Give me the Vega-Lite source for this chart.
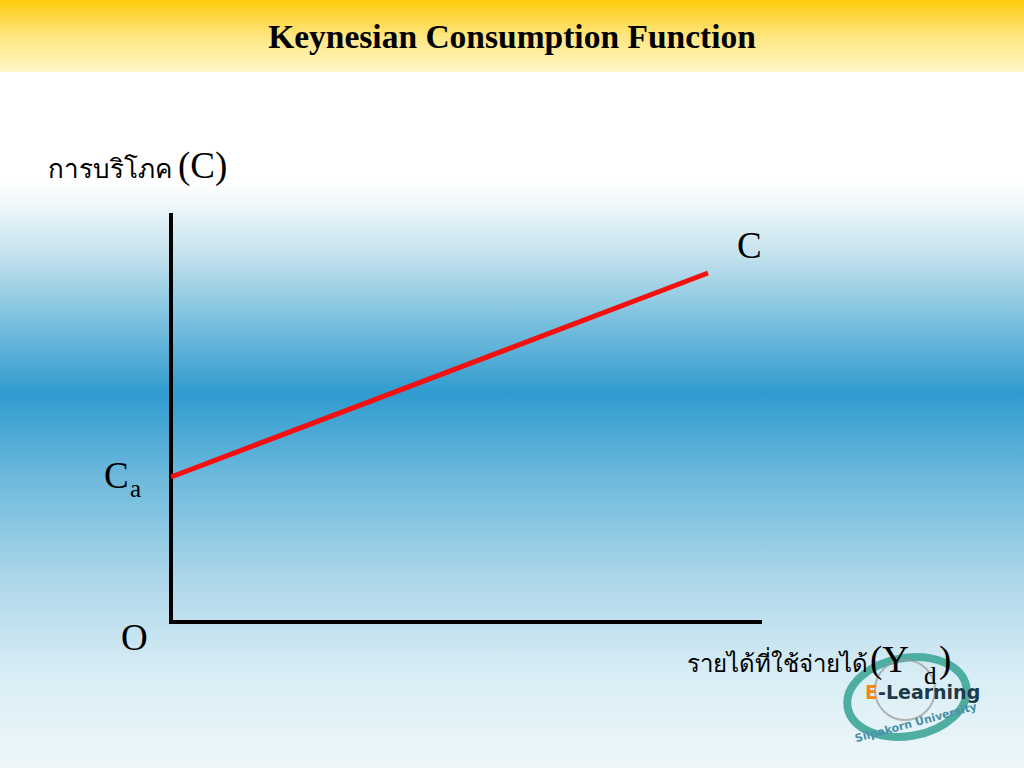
{
  "$schema": "https://vega.github.io/schema/vega-lite/v6.json",
  "width": 1024,
  "height": 768,
  "autosize": {"type": "fit", "contains": "padding"},
  "padding": 0,
  "background": "#ffffff",
  "view": {"stroke": null},
  "config": {"axis": {"disable": true}},
  "layer": [
    {
      "data": {"values": [{"xa": -171, "xb": 853, "ya": 550, "yb": 622}]},
      "mark": {"type": "rect", "color": {"gradient": "linear", "x1": 0, "y1": 0, "x2": 0, "y2": 1, "stops": [{"offset": 0, "color": "#FFCB0C"}, {"offset": 0.5, "color": "#FFE680"}, {"offset": 1, "color": "#FFF8C8"}]}},
      "encoding": {
        "x": {"field": "xa", "type": "quantitative", "scale": {"domain": [-171, 853], "nice": false, "zero": false}},
        "x2": {"field": "xb"},
        "y": {"field": "yb", "type": "quantitative", "scale": {"domain": [-146, 622], "nice": false, "zero": false}},
        "y2": {"field": "ya"}
      }
    },
    {
      "data": {"values": [{"xa": -171, "xb": 853, "ya": -146, "yb": 440}]},
      "mark": {"type": "rect", "color": {"gradient": "linear", "x1": 0, "y1": 0, "x2": 0, "y2": 1, "stops": [{"offset": 0, "color": "#FFFFFF"}, {"offset": 0.04, "color": "#EEF7FA"}, {"offset": 0.12, "color": "#C6E3EE"}, {"offset": 0.22, "color": "#86C5E0"}, {"offset": 0.36, "color": "#2F9BCF"}, {"offset": 0.5, "color": "#6BB8DC"}, {"offset": 0.68, "color": "#AED7EA"}, {"offset": 0.84, "color": "#D8EDF5"}, {"offset": 1, "color": "#EEF7FA"}]}},
      "encoding": {
        "x": {"field": "xa", "type": "quantitative"},
        "x2": {"field": "xb"},
        "y": {"field": "yb", "type": "quantitative"},
        "y2": {"field": "ya"}
      }
    },
    {
      "data": {"values": [{"x": 736, "y": -75}]},
      "mark": {"type": "point", "shape": "M -1,0 A 1,0.65 0 1,0 1,0 A 1,0.65 0 1,0 -1,0 Z", "size": 14500, "filled": false, "stroke": "#4FAEA2", "strokeWidth": 8, "angle": -10, "opacity": 1},
      "encoding": {"x": {"field": "x", "type": "quantitative"}, "y": {"field": "y", "type": "quantitative"}}
    },
    {
      "data": {"values": [{"x": 734, "y": -68}]},
      "mark": {"type": "point", "shape": "circle", "size": 3600, "filled": false, "stroke": "#9A9A9A", "strokeWidth": 2},
      "encoding": {"x": {"field": "x", "type": "quantitative"}, "y": {"field": "y", "type": "quantitative"}}
    },
    {
      "data": {"values": [{"x": 694, "y": -77, "t": "E"}]},
      "mark": {"type": "text", "font": "DejaVu Sans", "fontWeight": "bold", "fontSize": 19, "align": "left", "baseline": "alphabetic", "color": "#F08A12"},
      "encoding": {"x": {"field": "x", "type": "quantitative"}, "y": {"field": "y", "type": "quantitative"}, "text": {"field": "t"}}
    },
    {
      "data": {"values": [{"x": 707, "y": -77, "t": "-Learning"}]},
      "mark": {"type": "text", "font": "DejaVu Sans", "fontWeight": "bold", "fontSize": 19, "align": "left", "baseline": "alphabetic", "color": "#1E3A4A"},
      "encoding": {"x": {"field": "x", "type": "quantitative"}, "y": {"field": "y", "type": "quantitative"}, "text": {"field": "t"}}
    },
    {
      "data": {"values": [{"x": 745, "y": -101, "t": "Silpakorn University"}]},
      "mark": {"type": "text", "font": "DejaVu Sans", "fontWeight": "bold", "fontSize": 11, "align": "center", "baseline": "middle", "angle": -15, "color": "#4A8FA8"},
      "encoding": {"x": {"field": "x", "type": "quantitative"}, "y": {"field": "y", "type": "quantitative"}, "text": {"field": "t"}}
    },
    {
      "data": {"values": [{"seg": "yaxis", "yd": 0, "c": 407, "o": 0}, {"seg": "yaxis", "yd": 0, "c": 0, "o": 1}, {"seg": "xaxis", "yd": 0, "c": 0, "o": 0}, {"seg": "xaxis", "yd": 589, "c": 0, "o": 1}]},
      "mark": {"type": "line", "color": "#000000", "strokeWidth": 4, "strokeCap": "square"},
      "encoding": {
        "x": {"field": "yd", "type": "quantitative"},
        "y": {"field": "c", "type": "quantitative"},
        "detail": {"field": "seg"},
        "order": {"field": "o"}
      }
    },
    {
      "data": {"values": [{"yd": 0, "c": 145}, {"yd": 537, "c": 349}]},
      "mark": {"type": "line", "color": "#F50F0F", "strokeWidth": 5},
      "encoding": {
        "x": {"field": "yd", "type": "quantitative"},
        "y": {"field": "c", "type": "quantitative"}
      }
    },
    {
      "data": {"values": [{"x": 341, "y": 574, "t": "Keynesian Consumption Function"}]},
      "mark": {"type": "text", "font": "Liberation Serif", "fontWeight": "bold", "fontSize": 33.5, "align": "center", "baseline": "alphabetic", "color": "#000000"},
      "encoding": {"x": {"field": "x", "type": "quantitative"}, "y": {"field": "y", "type": "quantitative"}, "text": {"field": "t"}}
    },
    {
      "data": {"values": [{"x": 566, "y": 364, "t": "C"}, {"x": -67, "y": 134, "t": "C"}, {"x": -50, "y": -28, "t": "O"}, {"x": 7, "y": 444, "t": "(C)"}, {"x": 699, "y": -50, "t": "(Y"}, {"x": 768, "y": -50, "t": ")"}]},
      "mark": {"type": "text", "font": "Liberation Serif", "fontSize": 37, "align": "left", "baseline": "alphabetic", "color": "#000000"},
      "encoding": {"x": {"field": "x", "type": "quantitative"}, "y": {"field": "y", "type": "quantitative"}, "text": {"field": "t"}}
    },
    {
      "data": {"values": [{"x": -41, "y": 125, "t": "a"}, {"x": 753, "y": -62, "t": "d"}]},
      "mark": {"type": "text", "font": "Liberation Serif", "fontSize": 25, "align": "left", "baseline": "alphabetic", "color": "#000000"},
      "encoding": {"x": {"field": "x", "type": "quantitative"}, "y": {"field": "y", "type": "quantitative"}, "text": {"field": "t"}}
    },
    {
      "data": {"values": [{"x": 1, "y": 444, "t": "การบริโภค"}]},
      "mark": {"type": "text", "font": "Liberation Serif", "fontSize": 26, "align": "right", "baseline": "alphabetic", "color": "#000000"},
      "encoding": {"x": {"field": "x", "type": "quantitative"}, "y": {"field": "y", "type": "quantitative"}, "text": {"field": "t"}}
    },
    {
      "data": {"values": [{"x": 697, "y": -50, "t": "รายได้ที่ใช้จ่ายได้"}]},
      "mark": {"type": "text", "font": "Liberation Serif", "fontSize": 24, "align": "right", "baseline": "alphabetic", "color": "#000000"},
      "encoding": {"x": {"field": "x", "type": "quantitative"}, "y": {"field": "y", "type": "quantitative"}, "text": {"field": "t"}}
    }
  ]
}
